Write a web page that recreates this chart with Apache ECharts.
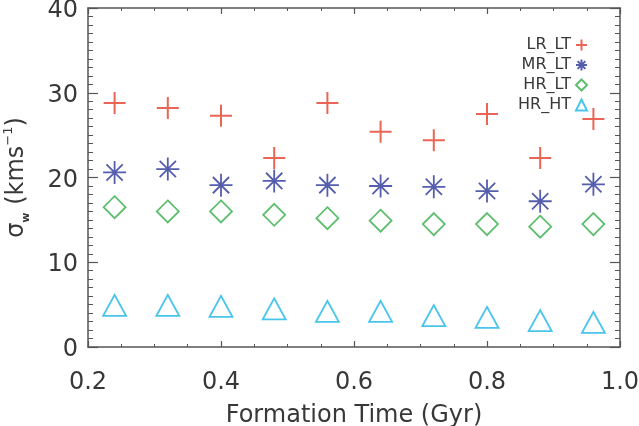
<!DOCTYPE html>
<html>
<head>
<meta charset="utf-8">
<script src="https://cdn.jsdelivr.net/npm/echarts@6/dist/echarts.min.js"></script>
<style>
  html, body { margin: 0; padding: 0; background: #fff; }
  #chart { width: 639px; height: 426px; }
</style>
</head>
<body>
<div id="chart"></div>
<script>
// formation time of each bin (Gyr)
const formationTime = [0.24, 0.32, 0.40, 0.48, 0.56, 0.64, 0.72, 0.80, 0.88, 0.96]

// sigma_w for each run (km/s)
const lrLt = [28.8, 28.2, 27.3, 22.3, 28.8, 25.4, 24.4, 27.5, 22.3, 26.9]
const mrLt = [20.6, 21.0, 19.1, 19.6, 19.1, 19.0, 18.9, 18.4, 17.2, 19.2]
const hrLt = [16.5, 16.0, 16.0, 15.6, 15.2, 14.9, 14.5, 14.5, 14.2, 14.5]
const hrHt = [4.9, 4.9, 4.8, 4.5, 4.2, 4.2, 3.7, 3.5, 3.1, 2.9]

const seriesNames = ['LR_LT', 'MR_LT', 'HR_LT', 'HR_HT']
const xTicks = [0.2, 0.4, 0.6, 0.8, 1.0]
const yTicks = [0, 10, 20, 30, 40]

const plusPath = 'path://M0,10L20,10M10,0L10,20'
const starPath = 'path://M0,10L20,10M10,0L10,20M2.93,2.93L17.07,17.07M2.93,17.07L17.07,2.93'

const font = 'DejaVu Sans'
const textColor = '#383838'
const frameColor = '#555'

const chart = echarts.init(document.getElementById('chart'))

function pairs(values) {
  return values.map((v, i) => [formationTime[i], v])
}

function frameAxis(extra) {
  return Object.assign({
    axisLine: { show: true, onZero: false, lineStyle: { color: frameColor, width: 1.5 } },
    splitLine: { show: false },
    minorSplitLine: { show: false }
  }, extra)
}

const xBase = { type: 'value', min: xTicks[0], max: xTicks[xTicks.length - 1], interval: 0.2 }
const yBase = { type: 'value', min: yTicks[0], max: yTicks[yTicks.length - 1], interval: 10 }
const xTick = { show: true, inside: true, length: 6, lineStyle: { color: frameColor, width: 1.2 } }
const xMinor = { show: true, splitNumber: 4, length: 3, lineStyle: { color: frameColor, width: 1 } }
const yTick = { show: true, inside: true, length: 10, lineStyle: { color: frameColor, width: 1.2 } }
const yMinor = { show: true, splitNumber: 10, length: 5, lineStyle: { color: frameColor, width: 1 } }

const option = {
  animation: false,
  grid: { left: 88, right: 19, top: 8, bottom: 79, containLabel: false, outerBoundsMode: 'none' },
  legend: {
    orient: 'vertical',
    right: 46,
    top: 32,
    align: 'right',
    itemWidth: 11,
    itemHeight: 11,
    itemGap: 4,
    data: seriesNames,
    textStyle: { fontFamily: font, fontSize: 16, color: textColor }
  },
  xAxis: [
    frameAxis(Object.assign({}, xBase, {
      position: 'bottom',
      name: 'Formation Time (Gyr)',
      nameLocation: 'middle',
      nameGap: 57,
      nameTextStyle: { fontFamily: font, fontSize: 24, color: textColor },
      axisTick: xTick,
      minorTick: xMinor,
      axisLabel: {
        margin: 24,
        fontFamily: font,
        fontSize: 24,
        color: textColor,
        formatter: v => v.toFixed(1)
      }
    })),
    frameAxis(Object.assign({}, xBase, {
      position: 'top',
      axisTick: xTick,
      minorTick: xMinor,
      axisLabel: { show: false }
    }))
  ],
  yAxis: [
    frameAxis(Object.assign({}, yBase, {
      position: 'left',
      name: '{b|σ}{sub|w}{b| (kms}{sup|−1}{b|)}',
      nameLocation: 'middle',
      nameGap: 56,
      nameTextStyle: {
        fontFamily: font,
        fontSize: 24,
        color: textColor,
        rich: {
          b: { fontFamily: font, fontSize: 24, color: textColor, lineHeight: 30, verticalAlign: 'middle' },
          sub: { fontFamily: font, fontSize: 11, fontWeight: 'bold', color: textColor, lineHeight: 12, verticalAlign: 'bottom' },
          sup: { fontFamily: font, fontSize: 13, color: textColor, lineHeight: 14, verticalAlign: 'top' }
        }
      },
      axisTick: yTick,
      minorTick: yMinor,
      axisLabel: { margin: 10, fontFamily: font, fontSize: 24, color: textColor, verticalAlign: 'top', lineHeight: 6 }
    })),
    frameAxis(Object.assign({}, yBase, {
      position: 'right',
      axisTick: yTick,
      minorTick: yMinor,
      axisLabel: { show: false }
    }))
  ],
  series: [
    {
      name: 'LR_LT',
      type: 'scatter',
      symbol: plusPath,
      symbolSize: 22,
      itemStyle: { color: 'rgba(0,0,0,0)', borderColor: '#e53f2c', borderWidth: 2 },
      data: pairs(lrLt)
    },
    {
      name: 'MR_LT',
      type: 'scatter',
      symbol: starPath,
      symbolSize: 23,
      itemStyle: { color: 'rgba(0,0,0,0)', borderColor: '#2b3499', borderWidth: 1.8 },
      data: pairs(mrLt)
    },
    {
      name: 'HR_LT',
      type: 'scatter',
      symbol: 'diamond',
      symbolSize: 22,
      itemStyle: { color: 'rgba(0,0,0,0)', borderColor: '#35ae48', borderWidth: 1.8 },
      data: pairs(hrLt)
    },
    {
      name: 'HR_HT',
      type: 'scatter',
      symbol: 'triangle',
      symbolSize: [23, 21],
      itemStyle: { color: 'rgba(0,0,0,0)', borderColor: '#1cb6e6', borderWidth: 1.8 },
      data: pairs(hrHt)
    }
  ]
}

chart.setOption(option)
</script>
</body>
</html>
